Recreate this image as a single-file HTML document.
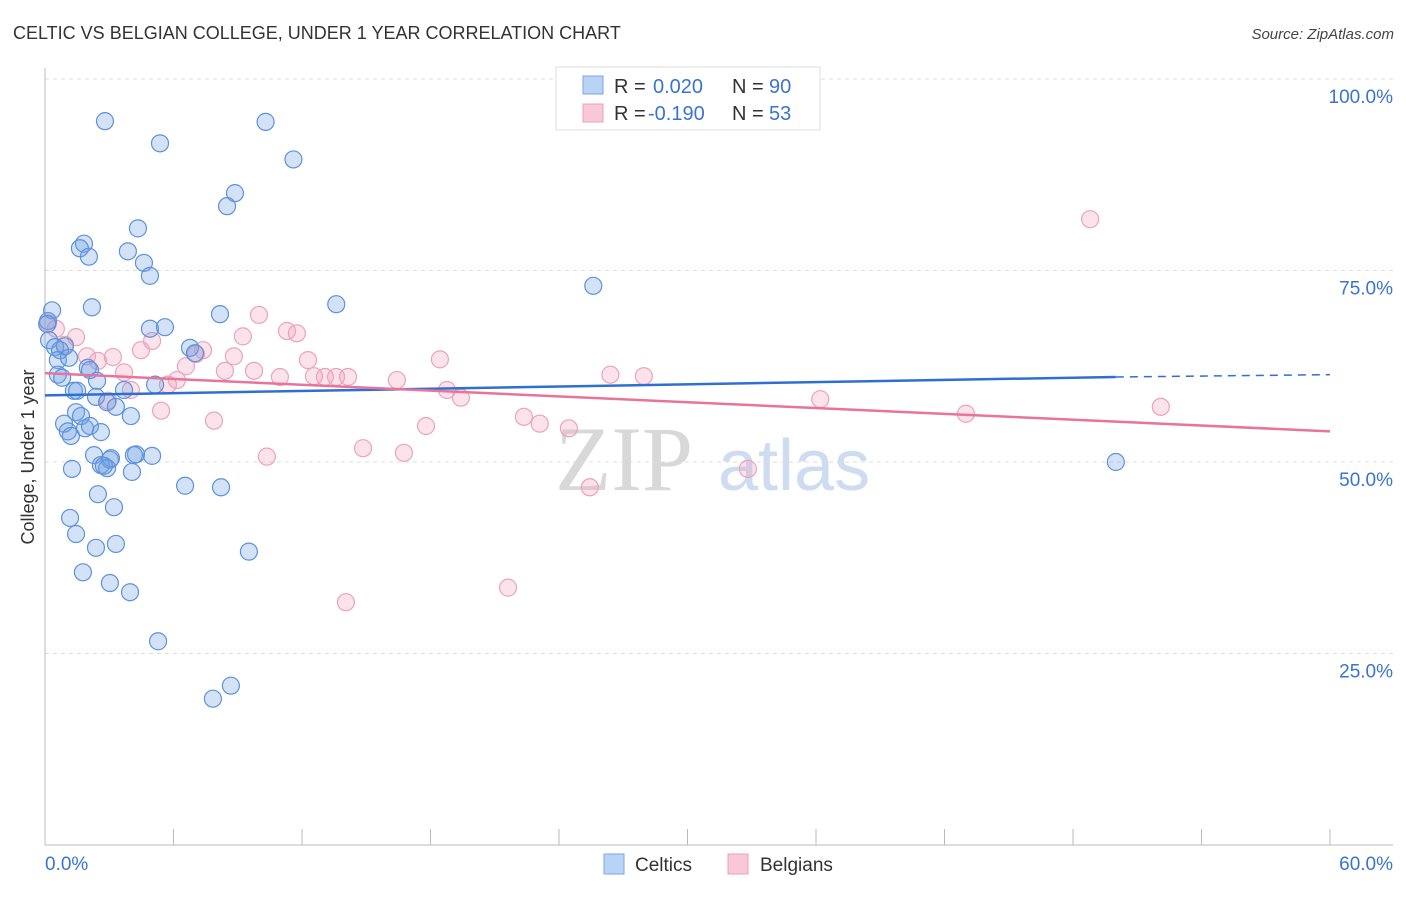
<!DOCTYPE html>
<html><head><meta charset="utf-8"><style>
body{margin:0;background:#fff;font-family:"Liberation Sans",sans-serif;}
</style></head><body>
<svg id="chart" width="1406" height="892" xmlns="http://www.w3.org/2000/svg" style="font-family:'Liberation Sans',sans-serif">
<text x="13" y="39" font-size="18" fill="#333">CELTIC VS BELGIAN COLLEGE, UNDER 1 YEAR CORRELATION CHART</text>
<text x="1394" y="39" font-size="15" fill="#444" text-anchor="end" font-style="italic">Source: ZipAtlas.com</text>
<g>
<text x="555" y="490" font-size="92" fill="#d8d8d8" font-family="Liberation Serif,serif">ZIP</text>
<text x="718" y="490" font-size="72" fill="#cddcf0">atlas</text>
</g>
<g id="grid"></g>
<g id="axes"></g>
<g id="marks"></g>
<g>
<rect x="556" y="67" width="264" height="63" fill="#fff" stroke="#ddd"/>
<rect x="583" y="76" width="20" height="18" fill="#b9d3f5" stroke="#7aa6e6"/>
<text x="614" y="93" font-size="20" fill="#333">R = </text><text x="653" y="93" font-size="20" fill="#3a74d0">0.020</text>
<text x="732" y="93" font-size="20" fill="#333">N = </text><text x="769" y="93" font-size="20" fill="#3a74d0">90</text>
<rect x="583" y="104" width="20" height="18" fill="#f8c8d8" stroke="#eca0b9"/>
<text x="614" y="120" font-size="20" fill="#333">R = </text><text x="648" y="120" font-size="20" fill="#3a74d0">-0.190</text>
<text x="732" y="120" font-size="20" fill="#333">N = </text><text x="769" y="120" font-size="20" fill="#3a74d0">53</text>
</g>
<g>
<rect x="604" y="854" width="20" height="20" fill="#b9d3f5" stroke="#7aa6e6"/>
<text x="635" y="871" font-size="19" fill="#333">Celtics</text>
<rect x="728" y="854" width="20" height="20" fill="#f8c8d8" stroke="#eca0b9"/>
<text x="760" y="871" font-size="19" fill="#333">Belgians</text>
</g>
<text transform="translate(34,457) rotate(-90)" font-size="18" fill="#333" text-anchor="middle">College, Under 1 year</text>
</svg>
<script>
const celticsX=[2.8,10.3,5.37,11.6,8.87,8.5,4.34,1.82,1.63,3.87,2.05,4.62,4.9,25.6,13.6,2.19,0.33,8.17,0.14,0.1,4.9,5.6,0.19,0.47,0.93,0.7,6.77,7.0,0.6,1.12,2.0,2.1,0.6,0.8,2.43,3.69,5.14,1.35,1.5,2.38,2.9,3.31,4.01,1.45,1.68,0.89,1.07,1.21,1.87,2.1,2.61,4.25,2.29,5.0,4.15,3.03,3.08,2.61,2.9,2.75,4.06,1.26,6.54,8.22,2.47,3.22,1.17,1.45,3.31,2.38,9.52,1.77,3.03,3.97,5.28,8.68,7.84,50.0];
const celticsY=[94.5,94.4,91.6,89.5,85.1,83.4,80.5,78.5,77.9,77.5,76.8,76.0,74.3,73.0,70.6,70.2,69.8,69.3,68.4,68.0,67.4,67.6,65.9,65.0,65.1,64.6,64.9,64.2,63.3,63.6,62.3,62.0,61.4,61.0,60.6,59.4,60.1,59.3,59.3,58.5,57.8,57.2,56.0,56.5,56.0,55.0,54.0,53.4,54.4,54.7,53.9,51.0,50.9,50.8,50.9,50.3,50.5,49.6,49.2,49.5,48.7,49.1,46.9,46.7,45.8,44.1,42.7,40.6,39.3,38.8,38.3,35.6,34.2,33.0,26.6,20.8,19.1,50.0];
const belgiansX=[48.8,9.99,0.51,0.14,1.45,11.76,11.3,9.24,5.0,0.93,4.48,7.38,1.96,3.17,2.47,8.82,7.05,12.28,18.44,6.58,3.69,8.4,9.76,10.97,12.56,13.07,13.59,14.15,6.16,5.74,16.43,4.01,18.77,19.42,26.4,27.96,2.94,36.2,5.42,22.36,7.89,23.1,24.46,43.0,52.1,17.79,14.85,16.76,10.36,32.82,25.44,21.62,14.05];
const belgiansY=[81.7,69.2,67.4,68.1,66.3,66.8,67.1,66.4,65.8,65.3,64.6,64.6,63.8,63.7,63.2,63.8,64.1,63.3,63.4,62.5,61.7,61.9,61.9,61.1,61.2,61.1,61.1,61.1,60.7,60.1,60.7,59.4,59.4,58.4,61.4,61.2,58.0,58.2,56.7,55.9,55.4,55.0,54.4,56.3,57.2,54.7,51.8,51.2,50.7,49.1,46.7,33.6,31.7];
const celticsTrend=[[0,58.7],[50,61.1],[60,61.4]];
const belgiansTrend=[[0,61.6],[60,54.0]];
const yTicks=[25,50,75,100];
const yTickLabels=["25.0%","50.0%","75.0%","100.0%"];
const xTicks=[0,6,12,18,24,30,36,42,48,54,60];

const NS="http://www.w3.org/2000/svg";
const X=v=>45+v*(1285/60);
const Y=v=>845-v*7.66;
function mk(tag,attrs,parent){const e=document.createElementNS(NS,tag);for(const k in attrs)e.setAttribute(k,attrs[k]);parent.appendChild(e);return e;}
const grid=document.getElementById('grid'),axes=document.getElementById('axes'),marks=document.getElementById('marks');
yTicks.forEach((t,i)=>{
  const l=mk('line',{x1:45,x2:1393,y1:Y(t),y2:Y(t),stroke:'#ddd','stroke-dasharray':'4,4'},grid);
  
  
  const tx=mk('text',{x:1393,y:Y(t)+24,'font-size':19,fill:'#3a74d0','text-anchor':'end'},axes);
  tx.textContent=yTickLabels[i];
  
  
});
let a=mk('line',{x1:45,x2:45,y1:68,y2:845,stroke:'#bbb'},axes);


a=mk('line',{x1:45,x2:1393,y1:845,y2:845,stroke:'#bbb'},axes);


xTicks.forEach(t=>{
  const l=mk('line',{x1:X(t),x2:X(t),y1:829,y2:845,stroke:'#bbb'},axes);
  
  
});
let t0=mk('text',{x:45,y:870,'font-size':19,fill:'#3a74d0'},axes);t0.textContent='0.0%';


let t1=mk('text',{x:1393,y:870,'font-size':19,fill:'#3a74d0','text-anchor':'end'},axes);t1.textContent='60.0%';



function pts(xs,ys,fill,stroke,name){xs.forEach((x,i)=>{
  const c=mk('circle',{cx:X(x),cy:Y(ys[i]),r:8.5,fill:fill,stroke:stroke,'stroke-width':1.2},marks);
  
  
});}
pts(belgiansX,belgiansY,'rgba(243,160,190,0.3)','#eba3bc','belgians-point');
pts(celticsX,celticsY,'rgba(110,160,230,0.3)','#5d92dc','celtics-point');
let l=mk('line',{x1:X(celticsTrend[0][0]),y1:Y(celticsTrend[0][1]),x2:X(celticsTrend[1][0]),y2:Y(celticsTrend[1][1]),stroke:'#2f6fd2','stroke-width':2.5},marks);


l=mk('line',{x1:X(celticsTrend[1][0]),y1:Y(celticsTrend[1][1]),x2:X(celticsTrend[2][0]),y2:Y(celticsTrend[2][1]),stroke:'#2f6fd2','stroke-width':1.5,'stroke-dasharray':'8,6'},marks);


l=mk('line',{x1:X(belgiansTrend[0][0]),y1:Y(belgiansTrend[0][1]),x2:X(belgiansTrend[1][0]),y2:Y(belgiansTrend[1][1]),stroke:'#e8739b','stroke-width':2.5},marks);


</script>
</body></html>
